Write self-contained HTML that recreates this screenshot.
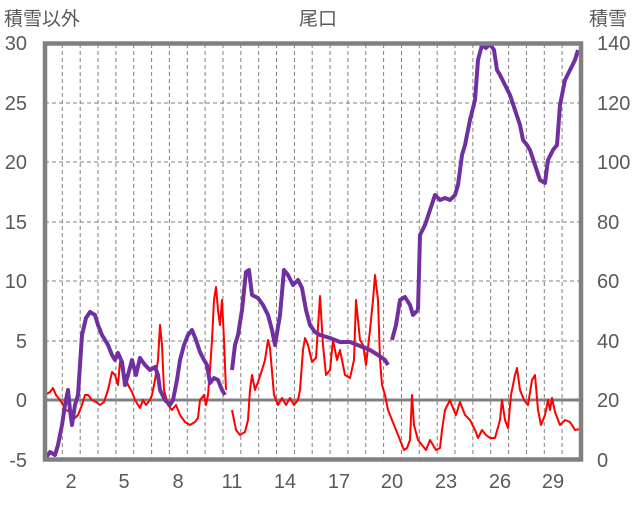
<!DOCTYPE html><html><head><meta charset="utf-8"><style>body{margin:0;background:#fff}svg text{font-family:"Liberation Sans","Noto Sans CJK JP",sans-serif;fill:#595959}</style></head><body>
<svg width="636" height="501" xmlns="http://www.w3.org/2000/svg">
<g font-size="19">
<text x="4" y="25">積雪以外</text><text x="318" y="25" text-anchor="middle">尾口</text><text x="589" y="25">積雪</text>
</g>
<g font-size="20" text-anchor="end">
<text x="27" y="50">30</text><text x="27" y="110">25</text><text x="27" y="169">20</text><text x="27" y="229">15</text><text x="27" y="288">10</text><text x="27" y="348">5</text><text x="27" y="407">0</text><text x="27" y="467">-5</text>
</g>
<g font-size="20">
<text x="597" y="50">140</text><text x="597" y="110">120</text><text x="597" y="169">100</text><text x="597" y="229">80</text><text x="597" y="288">60</text><text x="597" y="348">40</text><text x="597" y="407">20</text><text x="597" y="467">0</text>
</g>
<g font-size="20" text-anchor="middle">
<text x="71" y="488">2</text><text x="124" y="488">5</text><text x="178" y="488">8</text><text x="232" y="488">11</text><text x="285" y="488">14</text><text x="339" y="488">17</text><text x="392" y="488">20</text><text x="446" y="488">23</text><text x="500" y="488">26</text><text x="553" y="488">29</text>
</g>
<g stroke="#808080" stroke-width="1" stroke-dasharray="4,3" fill="none" id="g">
<path d="M45 103H580M45 162H580M45 222H580M45 281H580M45 341H580"/>
</g>
<g stroke="#808080" stroke-width="1" stroke-dasharray="4,3">
<script>/*none*/</script>
</g>
<path id="vg" stroke="#808080" stroke-width="1" stroke-dasharray="4,3" fill="none" d="M62.3 44V459M80.2 44V459M98 44V459M115.9 44V459M133.7 44V459M151.6 44V459M169.4 44V459M187.3 44V459M205.1 44V459M223 44V459M240.8 44V459M258.7 44V459M276.5 44V459M294.4 44V459M312.2 44V459M330.1 44V459M347.9 44V459M365.8 44V459M383.6 44V459M401.5 44V459M419.3 44V459M437.2 44V459M455 44V459M472.9 44V459M490.7 44V459M508.6 44V459M526.4 44V459M544.3 44V459M562.1 44V459"/>
<path d="M45 400H580" stroke="#808080" stroke-width="3"/>
<g fill="none" stroke="#FF0000" stroke-width="2" stroke-linejoin="round">
<polyline points="45,395 50,392 53,388 56,395 60,400 63,405 66,410 70,412 75,418 78,415 82,405 85,395 88,395 92,400 96,402 100,405 104,402 108,390 112,372 115,375 118,385 120,362 125,375 128,385 132,392 135,400 138,405 140,408 143,400 146,405 150,400 152,395 155,380 158,360 160,325 162,345 164,390 168,405 172,410 176,405 180,415 185,422 190,425 195,422 198,418 200,400 204,395 206,405 208,395 210,370 212,340 214,300 216,287 218,310 220,325 222,300 224,340 226,390"/>
<polyline points="232,410 236,430 240,435 245,432 248,420 250,390 252,375 255,390 258,382 262,370 265,360 268,340 270,348 274,395 278,405 282,398 286,405 290,398 294,405 298,400 300,390 303,350 305,338 308,345 312,362 316,358 320,296 323,345 326,375 330,370 333,340 337,360 340,350 345,375 350,378 354,360 356,300 360,340 363,345 366,365 370,330 373,300 375,275 378,300 380,360 382,385 385,395 388,410 392,420 396,430 400,440 404,450 407,448 410,440 412,395 414,425 418,440 422,445 426,450 430,440 433,445 436,450 440,448 442,430 445,410 450,400 453,408 456,415 460,402 465,415 470,420 475,430 478,438 482,430 486,435 490,438 495,438 500,420 502,400 505,420 508,428 511,395 515,375 517,368 520,390 524,400 528,405 532,380 535,375 538,410 541,425 545,415 548,400 550,410 552,398 555,412 560,425 565,420 570,422 575,430 580,429"/>
</g>
<g fill="none" stroke="#7030A0" stroke-width="4" stroke-linejoin="round">
<polyline points="45,459 50,452 55,455 58,445 62,425 65,405 68,390 70,410 72,425 75,405 78,395 82,335 86,318 90,312 95,315 98,325 102,335 108,345 112,355 115,360 118,353 122,362 125,385 128,375 132,360 136,375 140,358 145,365 150,370 155,367 158,375 160,390 165,400 170,405 173,400 177,380 180,360 184,345 188,335 192,330 196,340 200,352 204,360 207,365 210,383 214,378 218,380 222,390 225,395"/>
<polyline points="232,370 235,345 238,335 242,310 246,272 249,270 252,295 258,298 263,305 268,315 272,330 275,345 280,315 284,270 288,275 293,285 298,280 302,288 306,310 310,325 315,332 320,335 330,338 340,342 350,342 360,346 370,350 378,355 385,360 388,365"/>
<polyline points="392,340 396,325 400,300 405,297 410,305 413,315 418,310"/>
<polyline points="418,310 420,235 425,225 430,210 435,195 440,200 445,198 450,200 455,195 458,185 462,155 465,145 470,120 475,100 478,60 482,45 486,48 490,44 494,50 497,70 500,75 505,85 510,95 515,110 520,125 523,140 527,145 530,150 535,165 540,180 545,183 548,160 553,150 557,145 560,105 565,80 570,70 575,60 578,50"/>
</g>
<rect x="45" y="43.5" width="536" height="416" fill="none" stroke="#808080" stroke-width="4.5"/>
</svg>
</body></html>
